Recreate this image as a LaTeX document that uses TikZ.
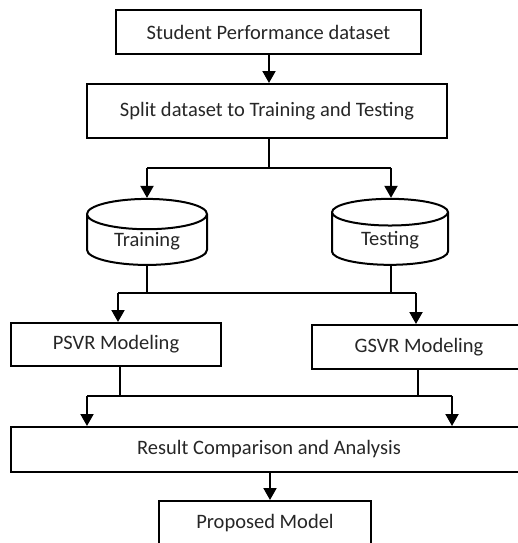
\documentclass[tikz,border=0pt]{standalone}
\usepackage{fontspec}
\setmainfont{Carlito}
\usetikzlibrary{shapes.geometric,arrows.meta}
\begin{document}
\begin{tikzpicture}[x=1pt,y=-1pt,
  every node/.style={font=\fontsize{20.5}{24}\selectfont, text=black!85},
  box/.style={draw, line width=2pt, rectangle, inner sep=0pt},
  db/.style={draw, line width=2pt, cylinder, shape border rotate=90, aspect=0.46, inner sep=0pt},
  line/.style={line width=2pt},
  arr/.style={line width=2pt, -{Triangle[width=13pt,length=12pt]}}
]
\useasboundingbox (0,0) rectangle (518,543);
\clip (0,0) rectangle (518,543);
\node[box, minimum width=305pt, minimum height=44pt] (b1) at (268.5,32) {Student Performance dataset};
\node[box, minimum width=360pt, minimum height=54pt] (b2) at (267,111) {Split dataset to Training and Testing};
\node[db, minimum width=120pt, minimum height=66pt] (tr) at (147,240) {\raisebox{-6pt}[0pt][0pt]{Training}};
\node[db, minimum width=116pt, minimum height=66pt] (te) at (390,239) {\raisebox{-6pt}[0pt][0pt]{Testing}};
\node[box, minimum width=210pt, minimum height=43pt] (ps) at (116,344.5) {PSVR Modeling};
\node[box, minimum width=214pt, minimum height=44pt] (gs) at (419,347) {GSVR Modeling};
\node[box, minimum width=516pt, minimum height=45pt] (rc) at (269,449.5) {Result Comparison and Analysis};
\node[box, minimum width=212pt, minimum height=60pt] (pm) at (265,531) {};
\node (pmt) at (265,523) {Proposed Model};
% junctions
\coordinate (j1) at (269,168);
\coordinate (j1l) at (147,168);
\coordinate (j1r) at (391,168);
\coordinate (j2a) at (147,293);
\coordinate (j2b) at (391,293);
\coordinate (j2l) at (118,293);
\coordinate (j2r) at (416,293);
\coordinate (j3a) at (120,396);
\coordinate (j3b) at (418,396);
\coordinate (j3l) at (87,396);
\coordinate (j3r) at (452,396);
% connectors
\draw[arr] (b1.south -| 269,0) -- (b2.north -| 269,0);
\draw[line] (b2.south -| j1) -- (j1);
\draw[line] (j1l) -- (j1r);
\draw[arr] (j1l) -- (tr.north -| j1l);
\draw[arr] (j1r) -- (te.north -| j1r);
\draw[line] (tr.south -| j2a) -- (j2a);
\draw[line] (te.south -| j2b) -- (j2b);
\draw[line] (j2l) -- (j2r);
\draw[arr] (j2l) -- (ps.north -| j2l);
\draw[arr] (j2r) -- (gs.north -| j2r);
\draw[line] (ps.south -| j3a) -- (j3a);
\draw[line] (gs.south -| j3b) -- (j3b);
\draw[line] (j3l) -- (j3r);
\draw[arr] (j3l) -- (rc.north -| j3l);
\draw[arr] (j3r) -- (rc.north -| j3r);
\draw[arr] (rc.south -| 270,0) -- (pm.north -| 270,0);
\end{tikzpicture}
\end{document}
